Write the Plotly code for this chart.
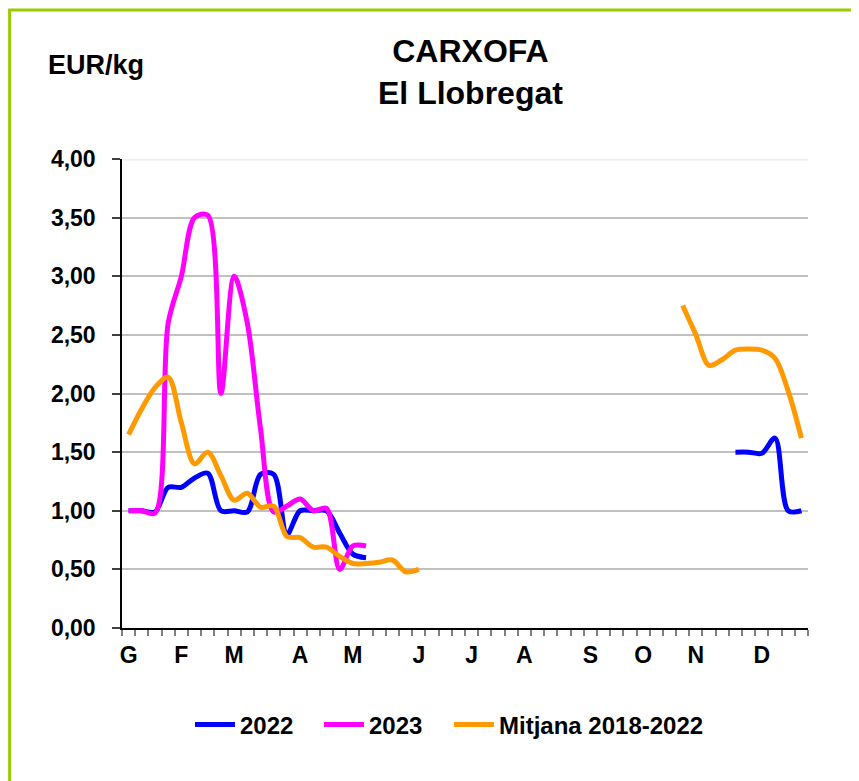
import plotly.graph_objects as go

# Weeks of the year (1..52)
weeks = list(range(1, 53))

# Month labels and the week at which each label is centred
month_weeks = [1, 5, 9, 14, 18, 23, 27, 31, 36, 40, 44, 49]
month_labels = ["G", "F", "M", "A", "M", "J", "J", "A", "S", "O", "N", "D"]

# 2022 (EUR/kg) - weeks 1-19 and 47-52
y2022_start = [1.00, 1.00, 0.99, 1.20, 1.20, 1.28, 1.32, 1.00, 1.00, 0.99,
               1.31, 1.31, 0.80, 1.00, 1.00, 1.00, 0.81, 0.63, 0.60]
y2022_end = [1.50, 1.50, 1.49, 1.62, 1.00, 1.00]

# 2023 (EUR/kg) - weeks 1-19
y2023_start = [1.00, 1.00, 0.98, 2.60, 3.00, 3.50, 3.52, 2.00, 3.00, 2.60,
               1.70, 0.99, 1.04, 1.10, 1.00, 1.02, 0.50, 0.70, 0.70]

# Mitjana 2018-2022 (EUR/kg) - weeks 1-23 and 43-52
ymit_start = [1.65, 1.87, 2.05, 2.14, 1.75, 1.40, 1.50, 1.30, 1.09, 1.15,
              1.03, 1.04, 0.78, 0.77, 0.69, 0.69, 0.61, 0.55, 0.55, 0.56,
              0.58, 0.48, 0.50]
ymit_end = [2.75, 2.50, 2.24, 2.29, 2.37, 2.38, 2.37, 2.30, 2.02, 1.62]


def full_year(start_vals, end_vals, end_first_week):
    vals = [None] * 52
    for i, v in enumerate(start_vals):
        vals[i] = v
    for i, v in enumerate(end_vals):
        vals[end_first_week - 1 + i] = v
    return vals


s2022 = full_year(y2022_start, y2022_end, 47)
s2023 = full_year(y2023_start, [], 1)
smit = full_year(ymit_start, ymit_end, 43)

FONT = "Liberation Sans, Arial, sans-serif"

# page has an 8px body margin, so the figure is 8px smaller than the window
W, H = 851, 773
L, R, T, B = 114, 51, 151, 153
pw, ph = W - L - R, H - T - B


def px_x(p):  # window pixel -> paper fraction
    return (p - 8 - L) / pw


def px_y(p):
    return (H - B - (p - 8)) / ph


fig = go.Figure()
series = [("2022", s2022, "#0000FF", "legend", 190),
          ("2023", s2023, "#FF00FF", "legend2", 319),
          ("Mitjana 2018-2022", smit, "#FF9900", "legend3", 449)]
legend_cfg = {}
for name, vals, col, leg, lx in series:
    fig.add_trace(go.Scatter(
        x=weeks, y=vals, name=name, mode="lines",
        line=dict(color=col, width=5, shape="spline", smoothing=0.9),
        connectgaps=False, hoverinfo="skip", legend=leg))
    legend_cfg[leg] = dict(
        orientation="h", x=px_x(lx), xanchor="left",
        y=px_y(725), yanchor="middle",
        font=dict(family=FONT, size=24, weight="bold", color="black"),
        bgcolor="rgba(0,0,0,0)", itemwidth=40)

fig.update_layout(
    width=W, height=H, autosize=False,
    margin=dict(l=L, r=R, t=T, b=B),
    paper_bgcolor="white", plot_bgcolor="white",
    separators=",.",
    font=dict(family=FONT, color="black"),
    showlegend=True,
    **legend_cfg,
    xaxis=dict(range=[0.5, 52.5], tickmode="array", tickvals=month_weeks,
               ticktext=month_labels, ticks="outside", ticklen=6,
               tickcolor="rgba(0,0,0,0)", showgrid=False, zeroline=False,
               showline=True, linecolor="black", linewidth=1.5,
               tickfont=dict(family=FONT, size=23, weight="bold", color="black"),
               minor=dict(tickmode="linear", tick0=0.5, dtick=1, ticks="outside",
                          ticklen=6, tickcolor="#808080", tickwidth=1.5,
                          showgrid=False)),
    yaxis=dict(range=[0, 4], tickmode="linear", tick0=0, dtick=0.5,
               tickformat=".2f", ticks="outside", ticklen=8,
               tickcolor="#404040", tickwidth=1.5, ticklabelstandoff=12,
               showgrid=True, gridcolor="#C0C0C0", gridwidth=2,
               zeroline=False, showline=True, linecolor="black", linewidth=1.5,
               tickfont=dict(family=FONT, size=23, weight="bold", color="black")),
    annotations=[
        dict(text="<b>CARXOFA</b><br><b>El Llobregat</b>", xref="paper",
             yref="paper", x=px_x(470), y=px_y(72.5), xanchor="center",
             yanchor="middle", showarrow=False,
             font=dict(family=FONT, size=32, color="black")),
        dict(text="<b>EUR/kg</b>", xref="paper", yref="paper", x=px_x(46),
             y=px_y(65), xanchor="left", yanchor="middle", showarrow=False,
             font=dict(family=FONT, size=27, color="black")),
    ],
    shapes=[
        # top gridline is drawn very faint in the original
        dict(type="line", xref="paper", yref="y", x0=0.002, x1=1, y0=4, y1=4,
             line=dict(color="#EDEDED", width=3), layer="between"),
        dict(type="rect", xref="paper", yref="paper",
             x0=px_x(9.6), x1=px_x(890), y0=px_y(800), y1=px_y(9.9),
             line=dict(color="#99CC00", width=3), fillcolor="rgba(0,0,0,0)",
             layer="above"),
    ],
)

fig.write_html("out.html")
